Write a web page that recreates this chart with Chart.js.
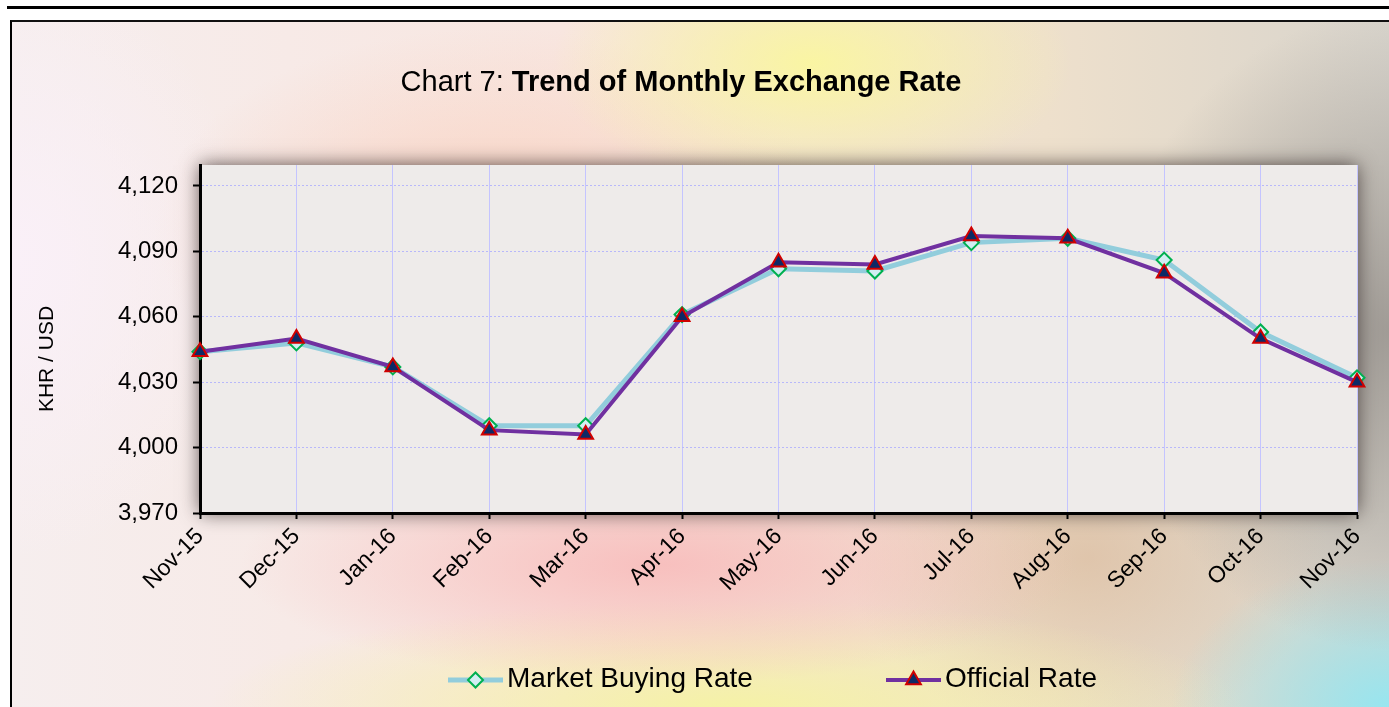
<!DOCTYPE html>
<html lang="en">
  <head>
    <meta charset="utf-8" />
    <title>Chart 7: Trend of Monthly Exchange Rate</title>
    <style>
      * {
        margin: 0;
        padding: 0;
      }
      body {
        width: 1389px;
        height: 707px;
        overflow: hidden;
        background: #ffffff;
        font-family: Arial, "Liberation Sans", sans-serif;
      }
      .topLine {
        position: absolute;
        left: 7px;
        top: 6px;
        width: 1382px;
        height: 3px;
        background: #000;
      }
      .frame {
        position: absolute;
        left: 10px;
        top: 20px;
        width: 1379px;
        height: 687px;
        border-left: 2px solid #000;
        border-top: 2px solid #111;
        background:
          radial-gradient(ellipse 260px 130px at 58% 6%, rgba(250, 246, 160, 0.95), rgba(250, 246, 160, 0) 100%),
          radial-gradient(ellipse 420px 120px at 47% 79%, rgba(248, 185, 185, 0.85), rgba(248, 185, 185, 0) 100%),
          radial-gradient(ellipse 280px 320px at 100% 45%, rgba(150, 145, 140, 0.85), rgba(150, 145, 140, 0) 100%),
          radial-gradient(ellipse 220px 150px at 100% 100%, rgba(150, 230, 240, 1), rgba(150, 230, 240, 0) 100%),
          radial-gradient(ellipse 520px 110px at 52% 100%, rgba(245, 242, 165, 1), rgba(245, 242, 165, 0) 100%),
          radial-gradient(ellipse 240px 180px at 78% 78%, rgba(215, 180, 150, 0.6), rgba(215, 180, 150, 0) 100%),
          radial-gradient(ellipse 340px 200px at 35% 30%, rgba(250, 205, 185, 0.75), rgba(250, 205, 185, 0) 100%),
          radial-gradient(ellipse 240px 300px at 0% 35%, rgba(250, 240, 248, 1), rgba(250, 240, 248, 0) 100%),
          linear-gradient(90deg, #f6eeee 0%, #f8e6e0 40%, #eee0cc 75%, #d8d4cc 100%);
      }
      .chartBox {
        position: absolute;
        left: 0;
        top: 0;
        width: 1389px;
        height: 707px;
      }
    </style>
  </head>
  <body>
    <div class="topLine"></div>
    <div class="frame"></div>
    <div class="chartBox">
      <canvas id="myChart" width="1389" height="707"></canvas>
    </div>
    <script src="https://cdn.jsdelivr.net/npm/chart.js"></script>
    <script>
      const months = [
        "Nov-15", "Dec-15", "Jan-16", "Feb-16", "Mar-16", "Apr-16", "May-16",
        "Jun-16", "Jul-16", "Aug-16", "Sep-16", "Oct-16", "Nov-16",
      ];
      const marketRate = [4044, 4048, 4037, 4010, 4010, 4061, 4082, 4081, 4094, 4096, 4086, 4053, 4032];
      const officialRate = [4044, 4050, 4037, 4008, 4006, 4060, 4085, 4084, 4097, 4096, 4080, 4050, 4030];
      const yTicks = [3970, 4000, 4030, 4060, 4090, 4120];

      const FONT = 'Arial, "Liberation Sans", sans-serif';

      // plot area fill with shadow, title, y axis title and legend
      const decor = {
        id: "decor",
        beforeDraw(chart) {
          const { ctx, chartArea: a } = chart;
          ctx.save();
          ctx.shadowColor = "rgba(40, 30, 30, 0.75)";
          ctx.shadowBlur = 18;
          ctx.fillStyle = "#eeebea";
          ctx.fillRect(a.left, a.top, a.right - a.left, a.bottom - a.top);
          ctx.restore();
        },
        afterDraw(chart) {
          const ctx = chart.ctx;
          ctx.save();
          // title
          ctx.fillStyle = "#000";
          ctx.textBaseline = "alphabetic";
          const t1 = "Chart 7: ";
          const t2 = "Trend of Monthly Exchange Rate";
          ctx.font = "29px " + FONT;
          const w1 = ctx.measureText(t1).width;
          ctx.font = "bold 29px " + FONT;
          const w2 = ctx.measureText(t2).width;
          const x = 681 - (w1 + w2) / 2;
          ctx.font = "29px " + FONT;
          ctx.fillText(t1, x, 91);
          ctx.font = "bold 29px " + FONT;
          ctx.fillText(t2, x + w1, 91);

          // y axis title
          ctx.save();
          ctx.translate(47, 359);
          ctx.rotate(-Math.PI / 2);
          ctx.font = "21px " + FONT;
          ctx.textAlign = "center";
          ctx.textBaseline = "middle";
          ctx.fillText("KHR / USD", 0, 0);
          ctx.restore();

          // legend
          const items = [
            { ds: chart.data.datasets[1], x: 448 },
            { ds: chart.data.datasets[0], x: 886 },
          ];
          const ly = 680;
          items.forEach((it) => {
            const ds = it.ds;
            ctx.strokeStyle = ds.borderColor;
            ctx.lineWidth = ds.borderWidth;
            ctx.beginPath();
            ctx.moveTo(it.x, ly);
            ctx.lineTo(it.x + 55, ly);
            ctx.stroke();
            ctx.fillStyle = ds.pointBackgroundColor;
            ctx.strokeStyle = ds.pointBorderColor;
            ctx.lineWidth = ds.pointBorderWidth;
            Chart.helpers.drawPoint(
              ctx,
              {
                pointStyle: ds.pointStyle,
                radius: ds.pointRadius,
                borderWidth: ds.pointBorderWidth,
              },
              it.x + 27.5,
              ly
            );
            ctx.fillStyle = "#000";
            ctx.font = "28px " + FONT;
            ctx.textAlign = "left";
            ctx.textBaseline = "middle";
            ctx.fillText(ds.label, it.x + 59, ly - 1);
          });
          ctx.restore();
        },
      };

      const data = {
        labels: months,
        datasets: [
          {
            label: "Official Rate",
            data: officialRate,
            borderColor: "#7030a0",
            borderWidth: 4,
            pointStyle: "triangle",
            pointRadius: 8.5,
            pointBorderWidth: 2,
            pointBackgroundColor: "#0d2a66",
            pointBorderColor: "#d00000",
            tension: 0,
          },
          {
            label: "Market Buying Rate",
            data: marketRate,
            borderColor: "#92cddc",
            borderWidth: 5,
            pointStyle: "rectRot",
            pointRadius: 7.5,
            pointBorderWidth: 2,
            pointBackgroundColor: "#d2eef2",
            pointBorderColor: "#00b050",
            tension: 0,
          },
        ],
      };

      const config = {
        type: "line",
        data,
        plugins: [decor],
        options: {
          responsive: false,
          animation: false,
          layout: {
            padding: { top: 165, right: 32, left: 0, bottom: 0 },
          },
          plugins: {
            legend: { display: false },
            tooltip: { enabled: false },
          },
          scales: {
            x: {
              offset: false,
              afterFit(scale) {
                scale.height = 194;
              },
              grid: {
                color: "#c4c4ff",
                lineWidth: 1,
                offset: false,
                tickLength: 6,
                tickColor: "#000",
                tickWidth: 2,
              },
              border: { color: "#000", width: 3 },
              ticks: {
                color: "#000",
                font: { family: FONT, size: 23 },
                maxRotation: 45,
                minRotation: 45,
                padding: 4,
                autoSkip: false,
              },
            },
            y: {
              min: 3970,
              max: 4129.6,
              afterFit(scale) {
                scale.width = 200;
              },
              afterBuildTicks(scale) {
                scale.ticks = yTicks.map((v) => ({ value: v }));
              },
              grid: {
                color: "#b8b8fa",
                lineWidth: 1,
                tickLength: 7,
                tickColor: "#000",
                tickWidth: 2,
                tickBorderDash: [],
              },
              border: { color: "#000", width: 3, dash: [2, 2] },
              ticks: {
                color: "#000",
                font: { family: FONT, size: 24 },
                padding: 15,
                callback: (v) => v.toLocaleString("en-US"),
              },
            },
          },
        },
      };

      const myChart = new Chart(document.getElementById("myChart"), config);
    </script>
  </body>
</html>
